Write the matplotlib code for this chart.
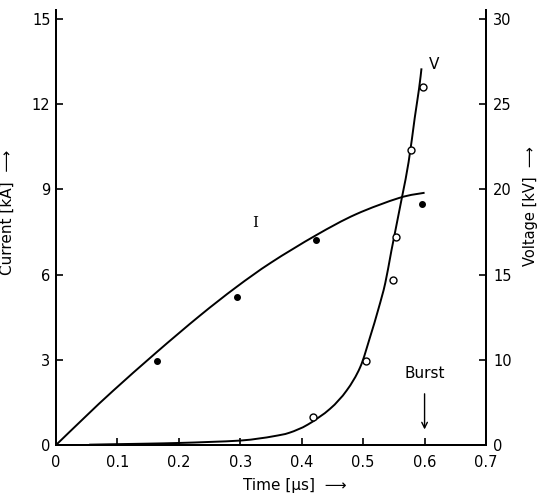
import matplotlib
matplotlib.use("Agg")
import matplotlib.pyplot as plt
from matplotlib.path import Path
from matplotlib.patches import PathPatch

plt.rcParams['font.family'] = ['Liberation Sans Narrow', 'DejaVu Sans']

# Current curve (kA) vs time (us)
curve_i_t = [0.0, 0.05, 0.093, 0.164, 0.234, 0.293, 0.35, 0.423, 0.488, 0.559, 0.6]
curve_i = [0.0, 1.04, 1.91, 3.27, 4.55, 5.55, 6.42, 7.38, 8.12, 8.7, 8.88]
# Measured current points
pts_i_t = [0.165, 0.295, 0.423, 0.596]
pts_i = [2.95, 5.2, 7.2, 8.5]

# Voltage curve (kV, right axis) vs time (us)
curve_v_t = [0.054, 0.1, 0.15, 0.2, 0.25, 0.3, 0.33, 0.355, 0.38, 0.41, 0.446, 0.473,
             0.495, 0.511, 0.525, 0.536, 0.546, 0.563, 0.574, 0.584, 0.591, 0.595]
curve_v = [5.02, 5.05, 5.08, 5.12, 5.18, 5.26, 5.38, 5.52, 5.72, 6.2, 7.12, 8.19,
           9.55, 11.3, 13.0, 14.5, 16.4, 19.5, 21.6, 24.2, 25.9, 27.1]
# Measured voltage points
pts_v_t = [0.419, 0.505, 0.548, 0.554, 0.578, 0.598]
pts_v = [6.67, 9.94, 14.7, 17.2, 22.3, 26.0]

x_ticks = [0, 0.1, 0.2, 0.3, 0.4, 0.5, 0.6, 0.7]
x_labels = ['0', '0.1', '0.2', '0.3', '0.4', '0.5', '0.6', '0.7']
i_ticks = [0, 3, 6, 9, 12, 15]
v_ticks = [5, 10, 15, 20, 25, 30]
v_labels = ['0', '10', '15', '20', '25', '30']


def smooth_path(xs, ys):
    """Smooth Bezier path passing through the given points (Catmull-Rom)."""
    pts = list(zip(xs, ys))
    n = len(pts)
    verts = [pts[0]]
    codes = [Path.MOVETO]
    for i in range(n - 1):
        p0 = pts[i - 1] if i > 0 else pts[i]
        p1 = pts[i]
        p2 = pts[i + 1]
        p3 = pts[i + 2] if i + 2 < n else pts[i + 1]
        c1 = (p1[0] + (p2[0] - p0[0]) / 6.0, p1[1] + (p2[1] - p0[1]) / 6.0)
        c2 = (p2[0] - (p3[0] - p1[0]) / 6.0, p2[1] - (p3[1] - p1[1]) / 6.0)
        verts += [c1, c2, p2]
        codes += [Path.CURVE4] * 3
    return Path(verts, codes)


fig = plt.figure(figsize=(5.4, 4.95), dpi=100)
ax = fig.add_axes([0.1037, 0.101, 0.7963, 0.878])
ax2 = ax.twinx()

ax.add_patch(PathPatch(smooth_path(curve_i_t, curve_i), fill=False,
                       edgecolor='black', lw=1.4, clip_on=False))
ax.plot(pts_i_t, pts_i, 'o', color='black', ms=4)
ax2.add_patch(PathPatch(smooth_path(curve_v_t, curve_v), fill=False,
                        edgecolor='black', lw=1.4, clip_on=False))
ax2.plot(pts_v_t, pts_v, 'o', mfc='white', mec='black', mew=1.0, ms=5)

ax.set_xlim(0, 0.7)
ax.set_ylim(0, 15.3)
ax2.set_ylim(5, 5 + 15.3 * 25 / 15)

for a in (ax, ax2):
    a.spines['top'].set_visible(False)
    for s in ('left', 'right', 'bottom'):
        a.spines[s].set_linewidth(1.4)

ax.set_xticks(x_ticks)
ax.set_xticklabels(x_labels)
ax.set_yticks(i_ticks)
ax2.set_yticks(v_ticks)
ax2.set_yticklabels(v_labels)

ax.tick_params(axis='x', direction='in', length=5, width=1.2, labelsize=10.5, pad=7)
ax.tick_params(axis='y', direction='in', length=5, width=1.2, labelsize=10.5, pad=4)
ax2.tick_params(axis='y', direction='in', length=5, width=1.2, labelsize=10.5, pad=5)

ax.set_xlabel('Time [μs]  ⟶', fontsize=11)
ax.xaxis.set_label_coords(0.556, -0.075)
ax.set_ylabel('Current [kA]  ⟶', fontsize=11)
ax.yaxis.set_label_coords(-0.095, 0.536)
ax2.set_ylabel('Voltage [kV]  ⟶', fontsize=10.5, rotation=90)
ax2.yaxis.set_label_coords(1.085, 0.55)

ax.text(0.324, 7.8, 'I', fontsize=11, ha='center', va='center', family='DejaVu Serif')
ax2.text(0.615, 27.3, 'V', fontsize=11, ha='center', va='center')
ax.text(0.6, 2.5, 'Burst', fontsize=11, ha='center', va='center')
ax.annotate('', xy=(0.6, 0.45), xytext=(0.6, 1.9),
            arrowprops=dict(arrowstyle='->', color='black', lw=1.0))

fig.savefig('out.png', dpi=100)
